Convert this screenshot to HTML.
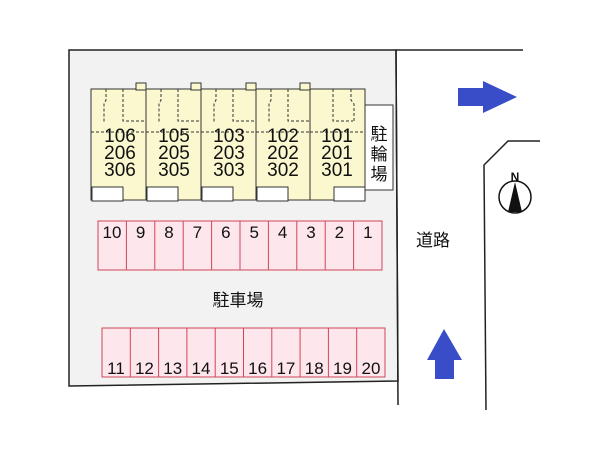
<!DOCTYPE html>
<html><head><meta charset="utf-8"><style>
body{margin:0;background:#fff;width:600px;height:450px;overflow:hidden}
svg text{font-family:"Liberation Sans","Noto Sans CJK JP",sans-serif}
</style></head><body>
<svg width="600" height="450" viewBox="0 0 600 450">
<polygon points="69,50 396,50 398,381 69,386" fill="#f2f2f2" stroke="#222" stroke-width="1.5"/>
<line x1="396" y1="50" x2="523" y2="50" stroke="#222" stroke-width="1.5"/>
<line x1="396" y1="50" x2="398" y2="405" stroke="#222" stroke-width="1.5"/>
<polyline points="540,141 508,141 484,165 486,410" fill="none" stroke="#222" stroke-width="1.5"/>
<g stroke="#333" stroke-width="1" fill="#fbf8cf">
<rect x="91" y="89" width="55" height="111"/><rect x="136" y="83" width="10" height="7"/>
<rect x="146" y="89" width="55" height="111"/><rect x="191" y="83" width="10" height="7"/>
<rect x="201" y="89" width="55" height="111"/><rect x="246" y="83" width="10" height="7"/>
<rect x="256" y="89" width="54" height="111"/><rect x="300" y="83" width="10" height="7"/>
<rect x="310" y="89" width="55" height="111"/><rect x="300" y="83" width="10" height="7"/>
</g>
<g fill="none" stroke="#333" stroke-width="1" stroke-dasharray="3,2">
<path d="M106,89V100L104,104V122 M123,89V121H146 M91,132H146"/>
<path d="M161,89V100L159,104V122 M178,89V121H201 M146,132H201"/>
<path d="M216,89V100L214,104V122 M233,89V121H256 M201,132H256"/>
<path d="M271,89V100L269,104V122 M288,89V121H310 M256,132H310"/>
<path d="M333,89V121H353 M351,89V100L354,104V121 M310,132H365"/>
</g>
<g fill="#fff" stroke="#333" stroke-width="1">
<rect x="92" y="187" width="31" height="14"/><rect x="147" y="187" width="31" height="14"/>
<rect x="202" y="187" width="31" height="14"/><rect x="257" y="187" width="31" height="14"/>
<rect x="334" y="187" width="31" height="14"/>
<rect x="365" y="105" width="28" height="85"/>
</g>
<g font-size="19" fill="#111" text-anchor="middle">
<text x="120" y="142">106</text><text x="120" y="159">206</text><text x="120" y="176">306</text>
<text x="174" y="142">105</text><text x="174" y="159">205</text><text x="174" y="176">305</text>
<text x="229" y="142">103</text><text x="229" y="159">203</text><text x="229" y="176">303</text>
<text x="283" y="142">102</text><text x="283" y="159">202</text><text x="283" y="176">302</text>
<text x="337" y="142">101</text><text x="337" y="159">201</text><text x="337" y="176">301</text>
</g>
<g font-size="17" fill="#111" text-anchor="middle">
<text x="379" y="140">駐</text><text x="379" y="160">輪</text><text x="379" y="180">場</text>
</g>
<g fill="#fde6ec" stroke="#d0455a" stroke-width="1">
<rect x="98" y="221" width="284" height="49"/>
<rect x="102" y="328" width="283" height="49"/>
</g>
<g stroke="#d0455a" stroke-width="1">
<path d="M126.4,221V270M154.8,221V270M183.2,221V270M211.6,221V270M240,221V270M268.4,221V270M296.8,221V270M325.2,221V270M353.6,221V270"/>
<path d="M130.3,328V377M158.6,328V377M186.9,328V377M215.2,328V377M243.5,328V377M271.8,328V377M300.1,328V377M328.4,328V377M356.7,328V377"/>
</g>
<g font-size="17" fill="#111" text-anchor="middle">
<text x="112" y="238">10</text><text x="140.6" y="238">9</text><text x="169" y="238">8</text><text x="197.4" y="238">7</text><text x="225.8" y="238">6</text><text x="254.2" y="238">5</text><text x="282.6" y="238">4</text><text x="311" y="238">3</text><text x="339.4" y="238">2</text><text x="367.8" y="238">1</text>
<text x="116" y="374">11</text><text x="144.4" y="374">12</text><text x="172.7" y="374">13</text><text x="201" y="374">14</text><text x="229.3" y="374">15</text><text x="257.6" y="374">16</text><text x="285.9" y="374">17</text><text x="314.2" y="374">18</text><text x="342.5" y="374">19</text><text x="371" y="374">20</text>
<text x="238" y="306">駐車場</text>
<text x="433" y="246">道路</text>
</g>
<polygon points="458,88 483,88 483,81 517,97 483,113 483,106 458,106" fill="#3a4dc8"/>
<polygon points="435,379 435,360 427,360 444,329 462,360 454,360 454,379" fill="#3a4dc8"/>
<circle cx="515" cy="197" r="16" fill="#fff" stroke="#111" stroke-width="1.5"/>
<polygon points="515,182 508,212 522,212" fill="#111"/>
<text x="515" y="181" font-size="12" font-weight="bold" text-anchor="middle" fill="#111">N</text>
</svg>
</body></html>
